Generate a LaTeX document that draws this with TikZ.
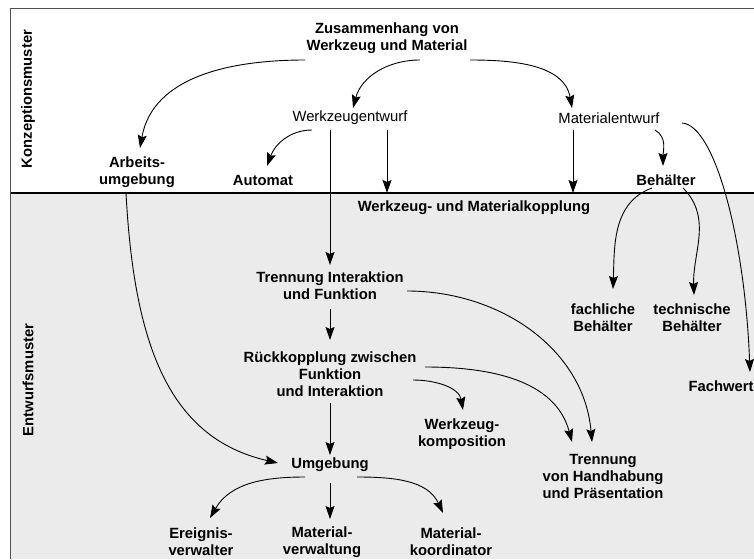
\documentclass[tikz,border=0pt]{standalone}
\usepackage{fontspec}
\setmainfont{Liberation Sans}
\usetikzlibrary{arrows.meta,calc}
\definecolor{panelgray}{RGB}{235,235,235}
\definecolor{framegray}{RGB}{80,80,80}
\begin{document}
\begin{tikzpicture}[x=1pt,y=1pt,
  lbl/.style={font=\bfseries\fontsize{14.8}{17}\selectfont,align=center,inner sep=0pt},
  thinlbl/.style={font=\fontsize{14.8}{17}\selectfont,align=center,inner sep=0pt},
  sidelbl/.style={lbl,rotate=90},
  conn/.style={line width=0.9pt,-{Stealth[length=13pt,width=9pt,inset=2pt]}},
  frameline/.style={draw=framegray,line width=1.3pt},
  divider/.style={draw=black,line width=2.2pt},
]
\useasboundingbox (0,0) rectangle (754,-559);

% lower band and frame
\fill[panelgray] (10.5,-193) rectangle (754,-559);
\draw[frameline] (754,-8.3) -- (10.5,-8.3) -- (10.5,-559);
\draw[divider] (10.5,-193) -- (754,-193);

% band titles
\node[sidelbl] (konz) at (28,-99) {Konzeptionsmuster};
\node[sidelbl] (entw) at (28,-380) {Entwurfsmuster};

% upper band
\node[lbl] (zus) at (387,-38) {Zusammenhang von\\Werkzeug und Material};
\node[thinlbl] (wze) at (350,-118) {Werkzeugentwurf};
\node[thinlbl] (mae) at (609,-118) {Materialentwurf};
\node[lbl] (arb) at (137,-172) {Arbeits-\\umgebung};
\node[lbl] (aut) at (263,-180) {Automat};
\node[lbl] (beh) at (666,-180) {Behälter};

% lower band
\node[lbl] (wmk) at (474,-208) {Werkzeug- und Materialkopplung};
\node[lbl] (tif) at (330,-286) {Trennung Interaktion\\und Funktion};
\node[lbl] (rfi) at (330,-374) {Rückkopplung zwischen\\Funktion\\und Interaktion};
\node[lbl] (wkk) at (462,-434) {Werkzeug-\\komposition};
\node[lbl] (thp) at (603,-476) {Trennung\\von Handhabung\\und Präsentation};
\node[lbl] (fbe) at (603,-318) {fachliche\\Behälter};
\node[lbl] (tbe) at (692,-318) {technische\\Behälter};
\node[lbl] (fw) at (721,-386) {Fachwert};
\node[lbl] (umg) at (330,-465) {Umgebung};
\node[lbl] (erv) at (201,-542) {Ereignis-\\verwalter};
\node[lbl] (mav) at (322,-542) {Material-\\verwaltung};
\node[lbl] (mak) at (451,-542) {Material-\\koordinator};

% connectors
\draw[conn] ($(zus)+(-82,-22)$) to[out=180,in=80] ($(arb)+(3,24)$);
\draw[conn] ($(zus)+(33,-22)$) to[out=180,in=75] ($(wze)+(3,10)$);
\draw[conn] ($(zus)+(83,-22)$) to[out=0,in=100] ($(mae)+(-37,10)$);
\draw[conn] ($(wze)+(-38,-12)$) to[out=180,in=70] ($(aut)+(4,14)$);
\draw[conn] ($(wze)+(-20,-12)$) -- ($(tif)+(0,21)$);
\draw[conn] ($(wze)+(37,-12)$) -- ($(wmk)+(-87,15)$);
\draw[conn] ($(mae)+(-36,-12)$) -- ($(wmk)+(99,15)$);
\draw[conn] ($(mae)+(46,-12)$) to[out=-30,in=90] ($(beh)+(-3,14)$);
\draw[conn] ($(mae)+(73,-5)$) .. controls +(33,-2) and +(-5,132) .. ($(fw)+(29,14)$);
\draw[conn] ($(beh)+(-14,-8)$) to[out=200,in=88] ($(fbe)+(10,29)$);
\draw[conn] ($(beh)+(17,-8)$) to[out=-45,in=92] ($(tbe)+(2,23)$);
\draw[conn] ($(arb)+(-11,-21)$) .. controls +(8,-150) and +(-110,25) .. ($(umg)+(-52,2)$);
\draw[conn] ($(tif)+(0,-23)$) -- ($(rfi)+(0,34)$);
\draw[conn] ($(rfi)+(0,-29)$) -- ($(umg)+(0,10)$);
\draw[conn] ($(tif)+(77,-5)$) to[out=0,in=95] ($(thp)+(-11,34)$);
\draw[conn] ($(rfi)+(95,7)$) to[out=0,in=105] ($(thp)+(-31,34)$);
\draw[conn] ($(rfi)+(83,-6)$) to[out=0,in=100] ($(wkk)+(1,24)$);
\draw[conn] ($(umg)+(-25,-12)$) to[out=180,in=60] ($(erv)+(9,24)$);
\draw[conn] ($(umg)+(0,-18)$) -- ($(mav)+(8,23)$);
\draw[conn] ($(umg)+(27,-12)$) to[out=0,in=115] ($(mak)+(-8,29)$);
\end{tikzpicture}
\end{document}
